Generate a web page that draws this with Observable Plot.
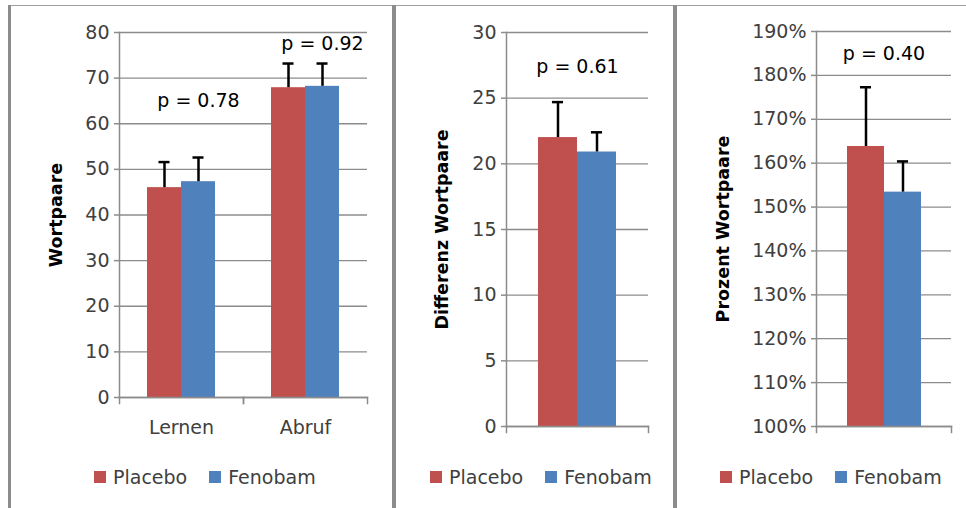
<!DOCTYPE html>
<html><head><meta charset="utf-8">
<script src="https://cdn.jsdelivr.net/npm/d3@7"></script>
<script src="https://cdn.jsdelivr.net/npm/@observablehq/plot@0.6"></script>
<style>
body{margin:0;background:#fff;}
#root{position:relative;width:966px;height:508px;overflow:hidden;background:#fff;font-family:"DejaVu Sans",sans-serif;}
.line{position:absolute;background:#8c8c8c;}
.panel{position:absolute;}
.legend{position:absolute;display:flex;align-items:center;font-size:19px;line-height:22px;color:#404040;white-space:nowrap;}
.item{display:flex;align-items:center;}
.sw{width:12px;height:12px;margin-right:7px;}
</style></head><body><div id="root"></div>
<script>
// ---- data ----
const series = ["Placebo", "Fenobam"];
const seriesColors = ["#C0504D", "#4F81BD"];

// Panel 1: Wortpaare
const wpCategories = ["Lernen", "Abruf"];
const wpPlacebo = [46.0, 67.9];
const wpPlaceboErr = [5.6, 5.3];
const wpFenobam = [47.3, 68.2];
const wpFenobamErr = [5.3, 5.0];
const wpTicks = [0, 10, 20, 30, 40, 50, 60, 70, 80];
const wpPLabels = ["p = 0.78", "p = 0.92"];
const wpPY = [64.9, 77.6];

// Panel 2: Differenz Wortpaare
const dfCategories = [""];
const dfPlacebo = [22.0];
const dfPlaceboErr = [2.7];
const dfFenobam = [20.9];
const dfFenobamErr = [1.5];
const dfTicks = [0, 5, 10, 15, 20, 25, 30];
const dfPLabels = ["p = 0.61"];
const dfPY = [27.4];

// Panel 3: Prozent Wortpaare
const pzCategories = [""];
const pzPlacebo = [163.8];
const pzPlaceboErr = [13.5];
const pzFenobam = [153.4];
const pzFenobamErr = [7.0];
const pzTicks = [100, 110, 120, 130, 140, 150, 160, 170, 180, 190];
const pzPLabels = ["p = 0.40"];
const pzPY = [184.8];

// ---- layout ----
const root = document.getElementById("root");
function line(l, t, w, h, c) {
  const d = document.createElement("div");
  d.className = "line";
  Object.assign(d.style, {left: l + "px", top: t + "px", width: w + "px", height: h + "px"});
  if (c) d.style.background = c;
  root.appendChild(d);
}
line(8, 5, 958, 1, "#a0a0a0");
line(8, 5, 3, 503);
line(392, 5, 4, 503);
line(673, 5, 4, 503);

const gridColor = "#8c8c8c";
const outerPad = 0.78;

function buildPanel(cfg) {
  const {cats, placebo, placeboErr, fenobam, fenobamErr, ticks, fmt, yLabel, pLabels, pY,
         showCats, left, top, width, height, mL, mR, mT, mB, titleOffset, legendLeft} = cfg;
  const rows = cats.flatMap((c, i) => [
    {category: c, series: series[0], value: placebo[i], err: placeboErr[i]},
    {category: c, series: series[1], value: fenobam[i], err: fenobamErr[i]}
  ]);
  const pRows = cats.map((c, i) => ({category: c, series: cats.length > 1 ? series[1] : null, label: pLabels[i], y: pY[i]}));
  const base = ticks[0];
  const domain = [ticks[0], ticks[ticks.length - 1]];
  const plotH = height - mT - mB;
  const facetW = (width - mL - mR) / cats.length;
  const bw = facetW / (2 + 2 * outerPad);
  const capInset = (bw - 12) / 2;

  const marks = [
    Plot.gridY(ticks, {stroke: gridColor, strokeOpacity: 1, strokeWidth: 1.3}),
    Plot.barY(rows, {fx: "category", x: "series", y1: base, y2: "value", fill: "series"}),
    Plot.frame({anchor: "bottom", stroke: gridColor, strokeWidth: 1.5}),
    Plot.frame({anchor: "left", insetTop: plotH, insetBottom: -6, stroke: gridColor, strokeWidth: 1.5}),
    Plot.frame({anchor: "right", insetTop: plotH, insetBottom: -6, stroke: gridColor, strokeWidth: 1.5}),
    Plot.frame({anchor: "left", facet: "super", stroke: gridColor, strokeWidth: 1.5}),
    Plot.ruleX(rows, {fx: "category", x: "series", y1: "value", y2: d => d.value + d.err, stroke: "#000", strokeWidth: 2.5}),
    Plot.tickY(rows, {fx: "category", x: "series", y: d => d.value + d.err, stroke: "#000", strokeWidth: 2.5, insetLeft: capInset, insetRight: capInset}),
    cats.length > 1
      ? Plot.text(pRows, {fx: "category", x: "series", y: "y", text: "label", fill: "#000", fontSize: 19})
      : Plot.text(pRows, {fx: "category", frameAnchor: "middle", y: "y", text: "label", fill: "#000", fontSize: 19}),
    Plot.axisY(ticks, {tickSize: 5, tickPadding: 5, tickFormat: fmt, stroke: gridColor, strokeWidth: 1.5, fill: "#404040", label: null, fontSize: 19}),
    Plot.text([yLabel], {facet: "super", frameAnchor: "left", textAnchor: "middle", dx: -titleOffset, rotate: -90, fontWeight: "bold", fontSize: 17.5, fill: "#000"})
  ];
  if (showCats) marks.push(Plot.axisFx({anchor: "bottom", tickSize: 0, tickPadding: 23, label: null, fontSize: 19, fill: "#404040"}));

  const svg = Plot.plot({
    width, height, marginLeft: mL, marginRight: mR, marginTop: mT, marginBottom: mB,
    style: {fontFamily: "DejaVu Sans", fontSize: "19px", background: "transparent", overflow: "visible"},
    fx: {domain: cats, padding: 0, axis: null},
    x: {domain: series, paddingInner: 0, paddingOuter: outerPad, axis: null},
    y: {domain, axis: null},
    color: {domain: series, range: seriesColors},
    marks
  });
  const wrap = document.createElement("div");
  wrap.className = "panel";
  Object.assign(wrap.style, {left: left + "px", top: top + "px"});
  wrap.appendChild(svg);
  root.appendChild(wrap);

  const lg = document.createElement("div");
  lg.className = "legend";
  Object.assign(lg.style, {left: legendLeft + "px", top: "466px"});
  series.forEach((s, i) => {
    const it = document.createElement("div");
    it.className = "item";
    if (i > 0) it.style.marginLeft = "22px";
    const sw = document.createElement("div");
    sw.className = "sw";
    sw.style.background = seriesColors[i];
    const tx = document.createElement("span");
    tx.textContent = s;
    it.appendChild(sw); it.appendChild(tx);
    lg.appendChild(it);
  });
  root.appendChild(lg);
}

buildPanel({cats: wpCategories, placebo: wpPlacebo, placeboErr: wpPlaceboErr, fenobam: wpFenobam, fenobamErr: wpFenobamErr,
  ticks: wpTicks, fmt: d => String(d), yLabel: "Wortpaare", pLabels: wpPLabels, pY: wpPY, showCats: true,
  left: 11, top: 6, width: 381, height: 454, mL: 107, mR: 25, mT: 26, mB: 63, titleOffset: 63, legendLeft: 94});
buildPanel({cats: dfCategories, placebo: dfPlacebo, placeboErr: dfPlaceboErr, fenobam: dfFenobam, fenobamErr: dfFenobamErr,
  ticks: dfTicks, fmt: d => String(d), yLabel: "Differenz Wortpaare", pLabels: dfPLabels, pY: dfPY, showCats: false,
  left: 396, top: 6, width: 277, height: 454, mL: 110, mR: 25, mT: 26, mB: 34, titleOffset: 64, legendLeft: 430});
buildPanel({cats: pzCategories, placebo: pzPlacebo, placeboErr: pzPlaceboErr, fenobam: pzFenobam, fenobamErr: pzFenobamErr,
  ticks: pzTicks, fmt: d => d + "%", yLabel: "Prozent Wortpaare", pLabels: pzPLabels, pY: pzPY, showCats: false,
  left: 677, top: 6, width: 289, height: 454, mL: 139, mR: 15, mT: 25, mB: 34, titleOffset: 93, legendLeft: 720});
</script></body></html>
